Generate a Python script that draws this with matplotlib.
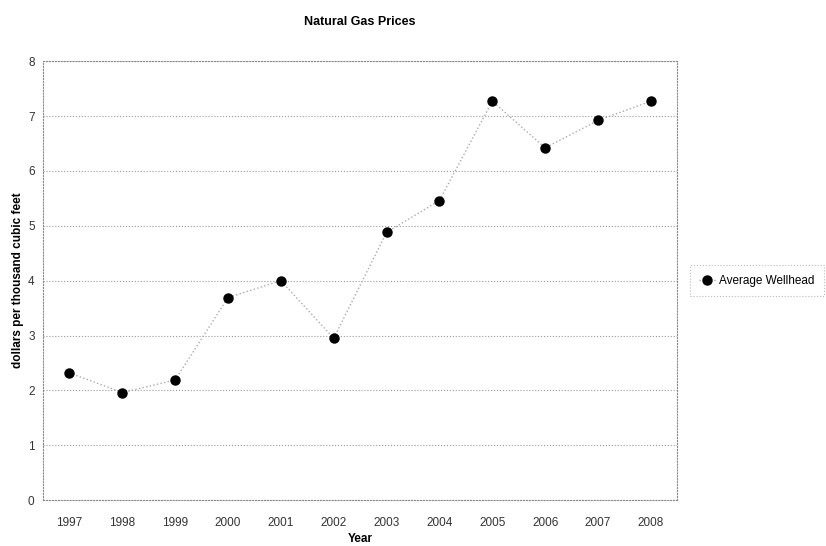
import matplotlib.pyplot as plt

plt.rcParams['font.family'] = ['Liberation Sans', 'DejaVu Sans']

years = ['1997', '1998', '1999', '2000', '2001', '2002',
         '2003', '2004', '2005', '2006', '2007', '2008']
prices = [2.32, 1.96, 2.19, 3.69, 4.00, 2.95, 4.88, 5.46, 7.27, 6.42, 6.92, 7.27]

fig = plt.figure(figsize=(8.26, 5.46), dpi=100)
ax = fig.add_axes([0.052, 0.084, 0.768, 0.804])

x = list(range(len(years)))
ax.plot(x, prices, color='#aaaaaa', linestyle=':', linewidth=1,
        marker='o', markersize=6.5, markerfacecolor='black', markeredgecolor='black',
        label='Average Wellhead')

ax.set_xlim(-0.5, len(years) - 0.5)
ax.set_ylim(0, 8)
ax.set_xticks(x)
ax.set_xticklabels(years)
ax.set_yticks(range(0, 9))
ax.tick_params(axis='both', length=0, labelsize=8.5, colors='#333333')
ax.tick_params(axis='x', pad=12)
ax.tick_params(axis='y', pad=6)
ax.grid(axis='y', color='#999999', linestyle=':', linewidth=0.8)
for s in ax.spines.values():
    s.set_linestyle(':')
    s.set_color('#888888')
    s.set_linewidth(0.8)

ax.set_title('Natural Gas Prices', fontsize=9, fontweight='bold', pad=26)
ax.set_xlabel('Year', fontsize=8.5, fontweight='bold', labelpad=3)
ax.set_ylabel('dollars per thousand cubic feet', fontsize=8.5, fontweight='bold', labelpad=3)

leg = ax.legend(loc='center left', bbox_to_anchor=(1.01, 0.5), fontsize=8.5,
                frameon=True, fancybox=False, handlelength=1.4, handletextpad=0.3,
                borderpad=0.8)
leg.get_frame().set_linestyle(':')
leg.get_frame().set_edgecolor('#aaaaaa')
leg.get_frame().set_linewidth(0.8)

fig.savefig('out.png', dpi=100)
